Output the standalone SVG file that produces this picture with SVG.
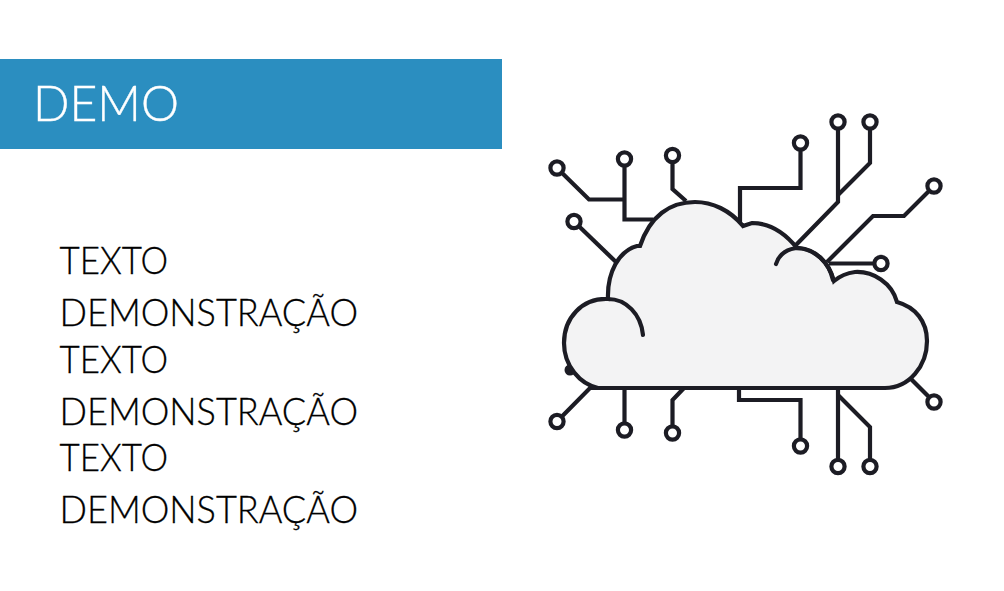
<svg xmlns="http://www.w3.org/2000/svg" width="1004" height="591" viewBox="0 0 1004 591">
<style>
.t{font-family:"Lato","Liberation Sans",sans-serif;font-size:37px;fill:#000;font-weight:300;stroke:#000;stroke-width:.3}
.c{fill:none;stroke:#1c1c24;stroke-width:4.200;stroke-linejoin:miter;stroke-linecap:butt}
.n{fill:#fff;stroke:#1c1c24;stroke-width:4.200}
.o{fill:none;stroke:#1c1c24;stroke-width:4.200;stroke-linecap:round;stroke-linejoin:round}
</style>
<rect width="1004" height="591" fill="#fff"/>
<g id="banner"><rect x="0" y="59" width="502" height="90" fill="#2b8ec0"/>
<text x="33" y="121" font-family="Lato,'Liberation Sans',sans-serif" font-size="50" font-weight="300" fill="#fff" stroke="#fff" stroke-width=".4" textLength="146" lengthAdjust="spacingAndGlyphs">DEMO</text></g>
<g id="body-text">
<text class="t" x="59.500" y="273.500" textLength="108.500" lengthAdjust="spacingAndGlyphs">TEXTO</text>
<text class="t" x="59.500" y="325.500" textLength="298.500" lengthAdjust="spacingAndGlyphs">DEMONSTRAÇÃO</text>
<text class="t" x="59.500" y="372.500" textLength="108.500" lengthAdjust="spacingAndGlyphs">TEXTO</text>
<text class="t" x="59.500" y="424.500" textLength="298.500" lengthAdjust="spacingAndGlyphs">DEMONSTRAÇÃO</text>
<text class="t" x="59.500" y="470.500" textLength="108.500" lengthAdjust="spacingAndGlyphs">TEXTO</text>
<text class="t" x="59.500" y="522.500" textLength="298.500" lengthAdjust="spacingAndGlyphs">DEMONSTRAÇÃO</text>
</g>
<g id="connectors">
<path class="c" d="M557 168L589 199.500H624.500M624.500 159V219.500H653"/>
<path class="c" d="M672.500 155.500V189L686 201"/>
<path class="c" d="M574 221.500L616 262"/>
<path class="c" d="M740 222V188H800.500V143"/>
<path class="c" d="M838 122V202L795 246"/>
<path class="c" d="M870 122V163L838 195"/>
<path class="c" d="M934 186L904 216H873L827 262"/>
<path class="c" d="M881 263.500H829"/>
<path class="c" d="M557 421.500L590 388H600"/>
<path class="c" d="M624.500 430V388"/>
<path class="c" d="M672.500 433V400L684 388"/>
<path class="c" d="M739 388V400H800.500V446"/>
<path class="c" d="M838 466.500V390"/>
<path class="c" d="M870 466.500V427L838 395"/>
<path class="c" d="M934 402L910 378"/>
<circle cx="570" cy="370" r="5.500" fill="#1c1c24"/>
</g>
<g id="cloud">
<path d="M598 388H885C909 388 927 366 927 341C927 321 915 307 897 302C892 283 873 271 855 272C847 273 840 276 834 281C829 262 815 249 797 248C785 233 770 223 752 223C749 224 746 225 743 226C730 210 712 202 695 202C670 202 650 216 640 246L637 246C619 251 607 272 608 299C582 298 564 318 564 343C564 366 580 384 598 388Z" fill="#f3f3f4" stroke="#1c1c24" stroke-width="4.200" stroke-linejoin="miter"/>
<path class="o" d="M776 264C779 254 788 248 799 248C815 249 829 262 833 280"/>
<path class="o" d="M608 299C626 299 641 314 643 335"/>
</g>
<g id="n1"><circle class="n" cx="557" cy="168" r="6.600"/></g>
<g id="n2"><circle class="n" cx="624.500" cy="159" r="6.600"/></g>
<g id="n3"><circle class="n" cx="672.500" cy="155.500" r="6.600"/></g>
<g id="n4"><circle class="n" cx="574" cy="221.500" r="6.600"/></g>
<g id="n5"><circle class="n" cx="800.500" cy="143" r="6.600"/></g>
<g id="n6"><circle class="n" cx="838" cy="122" r="6.600"/></g>
<g id="n7"><circle class="n" cx="870" cy="122" r="6.600"/></g>
<g id="n8"><circle class="n" cx="934" cy="186" r="6.600"/></g>
<g id="n9"><circle class="n" cx="881" cy="263.500" r="6.600"/></g>
<g id="n10"><circle class="n" cx="557" cy="421.500" r="6.600"/></g>
<g id="n11"><circle class="n" cx="624.500" cy="430" r="6.600"/></g>
<g id="n12"><circle class="n" cx="672.500" cy="433" r="6.600"/></g>
<g id="n13"><circle class="n" cx="800.500" cy="446" r="6.600"/></g>
<g id="n14"><circle class="n" cx="838" cy="466.500" r="6.600"/></g>
<g id="n15"><circle class="n" cx="870" cy="466.500" r="6.600"/></g>
<g id="n16"><circle class="n" cx="934" cy="402" r="6.600"/></g>
</svg>
